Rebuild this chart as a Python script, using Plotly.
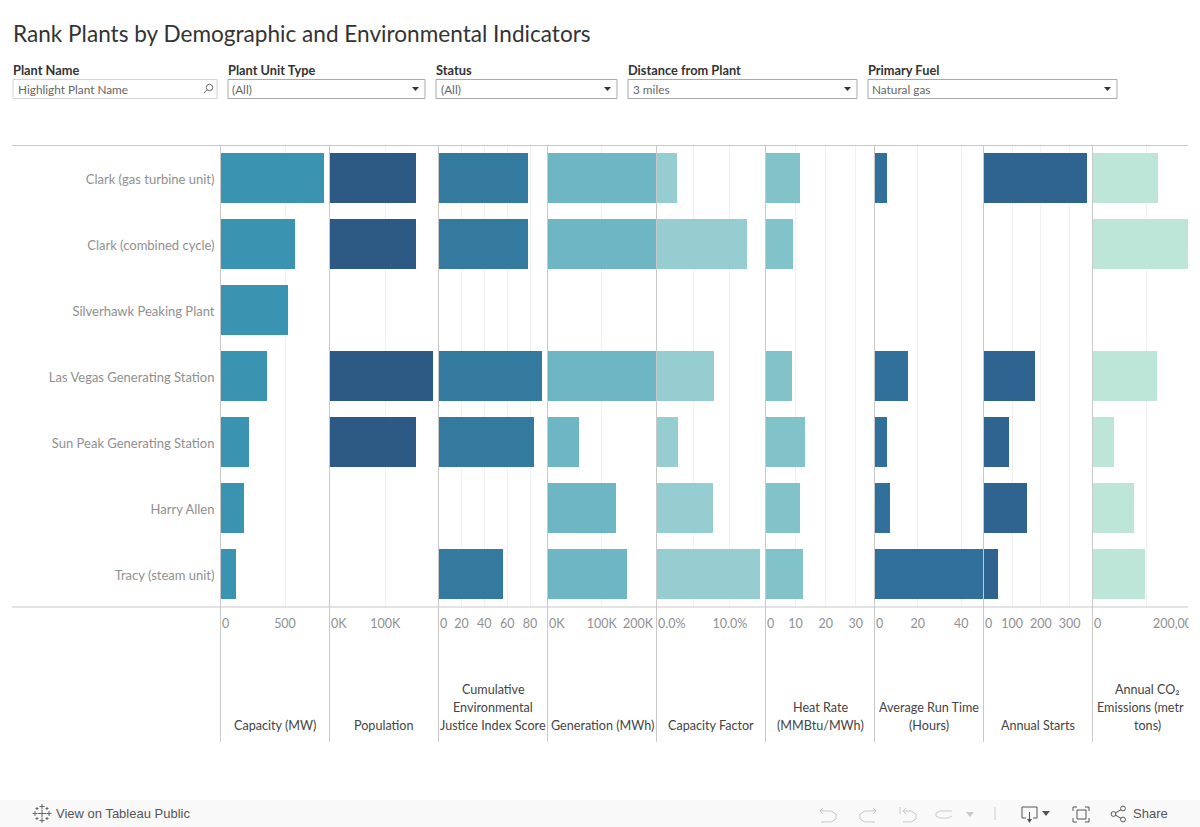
import plotly.graph_objects as go

W, H = 1200, 827
FONT = "Lato"

plants = ["Clark (gas turbine unit)", "Clark (combined cycle)", "Silverhawk Peaking Plant",
          "Las Vegas Generating Station", "Sun Peak Generating Station", "Harry Allen", "Tracy (steam unit)"]

capacity_mw = [798, 574, 520, 357, 217, 178, 116]
population = [154000, 154000, None, 185000, 154000, None, None]
ceji_score = [78, 78, None, 90, 83, None, 56]
generation_mwh = [201000, 201000, None, 201000, 57000, 125000, 145000]
capacity_factor = [2.7, 12.3, None, 7.8, 2.9, 7.6, 14.0]
heat_rate = [11.3, 9.0, None, 8.7, 13.0, 11.3, 12.3]
run_time = [5.5, None, None, 15.2, 5.5, 6.9, 50.3]
annual_starts = [359, None, None, 178, 87, 150, 49]
co2_tons = [120000, 176000, None, 118000, 39000, 75000, 96000]

# values, colour, axis max, tick values, tick labels on the axis, label held inside the panel's left edge, title lines
panels = [
    (capacity_mw, "#3b93b2", 845, [0, 500], ["", "500"], "0", ["Capacity (MW)"]),
    (population, "#2d5985", 195700, [0, 100000], ["", "100K"], "0K", ["Population"]),
    (ceji_score, "#347a9f", 95.2, [0, 20, 40, 60, 80], ["", "20", "40", "60", "80"], "0",
     ["Cumulative", "Environmental", "Justice Index Score"]),
    (generation_mwh, "#6fb6c4", 200700, [0, 100000, 200000], ["", "100K", ""], "0K", ["Generation (MWh)"]),
    (capacity_factor, "#95cdd0", 14.87, [0, 5, 10], ["", "", "10.0%"], "0.0%", ["Capacity Factor"]),
    (heat_rate, "#82c3ca", 36.2, [0, 10, 20, 30], ["", "10", "20", "30"], "0", ["Heat Rate", "(MMBtu/MWh)"]),
    (run_time, "#31709a", 50.3, [0, 20, 40], ["", "20", "40"], "0", ["Average Run Time", "(Hours)"]),
    (annual_starts, "#2f6490", 380, [0, 100, 200, 300], ["", "100", "200", "300"], "0", ["Annual Starts"]),
    (co2_tons, "#bde5d8", 175900, [0, 100000], ["", ""], "0", ["Annual CO₂", "Emissions (metric", "tons)"]),
]

PANEL_LEFT, PANEL_W, RIGHT_EDGE = 220.5, 109, 1188
TOP, BOTTOM, LINE_BOTTOM = 145, 607, 742
TICK_COLOR, TICK_SIZE, TICK_Y = "#909090", 12.5, 623


def px(x):
    return x / W


def py(y):
    return 1 - y / H


fig = go.Figure()
layout = dict(
    width=W, height=H, margin=dict(l=0, r=0, t=0, b=0, autoexpand=False), paper_bgcolor="white", plot_bgcolor="white",
    showlegend=False, barmode="overlay", bargap=0, font=dict(family=FONT, size=12, color="#555555"),
    yaxis=dict(type="category", categoryorder="array", categoryarray=plants, range=[6.5, -0.5], automargin=False,
               domain=[py(BOTTOM), py(TOP)], anchor="x", showgrid=False, zeroline=False, showline=False,
               ticks="", ticklabelstandoff=5, ticklabelshift=-1,
               tickfont=dict(family=FONT, size=13, color="#8f8f8f")),
)
shapes, annotations = [], []


def text(x, y, s, size=12, color="#333333", anchor="left", weight=None, family=FONT):
    annotations.append(dict(xref="paper", yref="paper", x=px(x), y=py(y), text=s, showarrow=False,
                            xanchor=anchor, yanchor="middle", xshift=0, borderpad=0,
                            font=dict(family=family, size=size, color=color, weight=weight)))


def seg(x0, y0, x1, y1, color, w=1):
    shapes.append(dict(type="line", xref="paper", yref="paper", x0=px(x0), y0=py(y0), x1=px(x1), y1=py(y1),
                       line=dict(color=color, width=w)))


def box(x0, y0, x1, y1, line=None, fill=None, layer="above"):
    shapes.append(dict(type="rect", xref="paper", yref="paper", x0=px(x0), y0=py(y0), x1=px(x1), y1=py(y1),
                       line=dict(color=line or "rgba(0,0,0,0)", width=1 if line else 0),
                       fillcolor=fill or "rgba(0,0,0,0)", layer=layer))


def path(points, color=None, fill=None, w=1, closed=False):
    d = "M" + " L".join(f"{px(x):.5f},{py(y):.5f}" for x, y in points) + (" Z" if closed else "")
    shapes.append(dict(type="path", xref="paper", yref="paper", path=d,
                       line=dict(color=color or "rgba(0,0,0,0)", width=w if color else 0),
                       fillcolor=fill or "rgba(0,0,0,0)"))


def circle(cx, cy, r, color, w=1):
    shapes.append(dict(type="circle", xref="paper", yref="paper", x0=px(cx - r), x1=px(cx + r),
                       y0=py(cy - r), y1=py(cy + r), line=dict(color=color, width=w)))


for i, (values, color, xmax, tickvals, ticktext, edge_label, title) in enumerate(panels):
    left = PANEL_LEFT + i * PANEL_W
    right = min(left + PANEL_W, RIGHT_EDGE)
    name = "x" if i == 0 else f"x{i + 1}"
    key = "xaxis" if i == 0 else f"xaxis{i + 1}"
    fig.add_trace(go.Bar(x=values, y=plants, orientation="h", xaxis=name, yaxis="y", width=0.7576,
                         marker=dict(color=color, line=dict(width=0)), name=" ".join(title)))
    layout[key] = dict(domain=[px(left), px(right)], range=[0, xmax], anchor="y", tickmode="array", automargin=False,
                       tickvals=tickvals, ticktext=ticktext, tickangle=0, showgrid=True, gridcolor="#f0f0f0",
                       gridwidth=1, zeroline=False, showline=False, ticks="", ticklabelstandoff=7,
                       tickfont=dict(family=FONT, size=TICK_SIZE, color=TICK_COLOR))
    seg(left, TOP, left, LINE_BOTTOM, "#c8c8c8")
    text(left + 0.5, TICK_Y, edge_label, size=TICK_SIZE, color=TICK_COLOR)
    center = left + PANEL_W / 2
    for j, line in enumerate(title):
        y = 725.5 - 18 * (len(title) - 1 - j)
        if line.startswith("Emissions"):
            text(1096, y, "Emissions (metr", size=12.6, color="#444444")
        else:
            text(center, y, line, size=12.6, color="#444444", anchor="center")

# Labels that Tableau pushes inwards so that they stay inside their panel
text(655, TICK_Y, "200K", size=TICK_SIZE, color=TICK_COLOR, anchor="right")
text(1152, TICK_Y, "200,00", size=TICK_SIZE, color=TICK_COLOR)
# The view's right edge cuts the last label off
annotations.append(dict(xref="paper", yref="paper", x=px(1188), y=py(TICK_Y), text=" ", showarrow=False,
                        xanchor="left", yanchor="middle", width=12, height=18, bgcolor="white", borderpad=0))

seg(12, TOP + 0.5, RIGHT_EDGE, TOP + 0.5, "#c8c8c8")
seg(12, BOTTOM, RIGHT_EDGE, BOTTOM, "#c8c8c8")

# Title and filter controls
text(11.5, 33.5, "Rank Plants by Demographic and Environmental Indicators", size=22.6, color="#333333")
filters = [("Plant Name", 13, 217, "Highlight Plant Name", False), ("Plant Unit Type", 228, 425, "(All)", True),
           ("Status", 436, 617, "(All)", True), ("Distance from Plant", 628, 857, "3 miles", True),
           ("Primary Fuel", 868, 1117, "Natural gas", True)]
for label, x0, x1, value, arrow in filters:
    text(x0 - 1, 70, label, size=12.8, color="#333333", weight="bold")
    box(x0, 79.5, x1, 98.5, line="#a9a9a9" if arrow else "#d4d4d4")
    text(x0 + 3.5, 89, value, size=11.8, color="#666666")
    if arrow:
        path([(x1 - 13, 87), (x1 - 6, 87), (x1 - 9.5, 91)], fill="#333333", closed=True)
circle(209.5, 87.5, 3.2, "#666666")
seg(207, 90, 204, 93, "#666666")

# Footer band
box(0, 800, 1200, 827, fill="#f9f9f9", layer="below")
text(55, 813.5, "View on Tableau Public", size=13, color="#555555", family="Liberation Sans")
text(1132, 813.5, "Share", size=13, color="#555555", family="Liberation Sans")
ICON = "#c9c9c9"
DARK = "#555555"
# logo
for dx, dy, r in [(0, 0, 4), (-7, 0, 2.5), (7, 0, 2.5), (0, -7, 2.5), (0, 7, 2.5),
                  (-5, -5, 1.5), (5, -5, 1.5), (-5, 5, 1.5), (5, 5, 1.5)]:
    seg(42 + dx - r, 813.5 + dy, 42 + dx + r, 813.5 + dy, "#666666")
    seg(42 + dx, 813.5 + dy - r, 42 + dx, 813.5 + dy + r, "#666666")
# undo / redo / revert / forward
path([(820, 811), (831, 811), (836, 814), (836, 819), (831, 822), (821, 822)], color=ICON)
path([(823, 808), (820, 811), (823, 814)], color=ICON)
path([(876, 811), (865, 811), (860, 814), (860, 819), (865, 822), (875, 822)], color=ICON)
path([(873, 808), (876, 811), (873, 814)], color=ICON)
path([(903, 811), (911, 811), (916, 814), (916, 819), (911, 822), (903, 822)], color=ICON)
path([(906, 808), (903, 811), (906, 814)], color=ICON)
seg(900, 807, 900, 814, ICON)
path([(952, 811), (940, 811), (936, 813), (936, 816), (940, 818), (948, 818), (952, 816)], color=ICON)
path([(966, 812), (974, 812), (970, 817)], fill=ICON, closed=True)
seg(995, 807, 995, 820, "#cfcfcf")
# download
path([(1026, 818), (1022, 818), (1022, 807), (1037, 807), (1037, 818), (1033, 818)], color=DARK)
seg(1029.5, 812, 1029.5, 822, DARK)
path([(1027, 819), (1032, 819), (1029.5, 823)], fill=DARK, closed=True)
path([(1042, 811), (1050, 811), (1046, 816)], fill=DARK, closed=True)
# fullscreen
box(1077, 810, 1086, 819, line=DARK)
for a, b, c in [((1073, 811), (1073, 807), (1077, 807)), ((1085, 807), (1089, 807), (1089, 811)),
                ((1073, 818), (1073, 822), (1077, 822)), ((1085, 822), (1089, 822), (1089, 818))]:
    path([a, b, c], color=DARK)
# share
circle(1113.5, 814, 2.4, DARK)
circle(1123, 808.5, 2.4, DARK)
circle(1123, 819.5, 2.4, DARK)
seg(1115.6, 812.8, 1121, 809.7, DARK)
seg(1115.6, 815.2, 1121, 818.3, DARK)

layout["shapes"] = shapes
layout["annotations"] = annotations
fig.update_layout(**layout)
fig.write_html("out.html", config=dict(displayModeBar=False),
               post_script="document.body.style.margin='0';document.body.style.overflow='hidden';")
